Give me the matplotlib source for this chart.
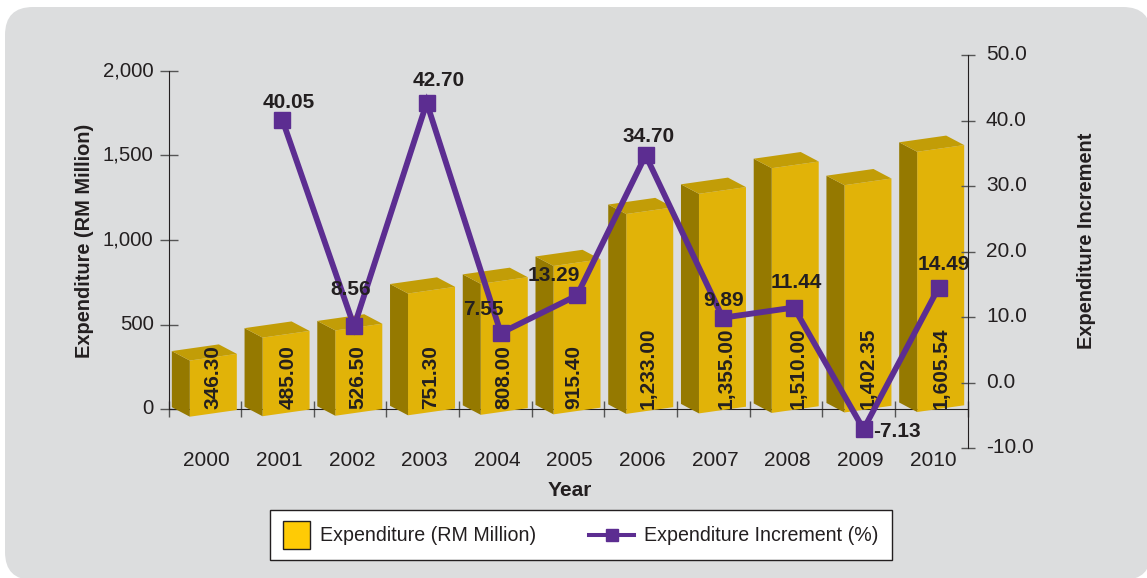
import matplotlib
matplotlib.use("Agg")
import matplotlib.pyplot as plt
from matplotlib.lines import Line2D
from matplotlib.patches import FancyBboxPatch, Rectangle
from matplotlib.transforms import IdentityTransform, ScaledTranslation

plt.rcParams['font.family'] = ['Liberation Sans', 'DejaVu Sans']

years = ['2000', '2001', '2002', '2003', '2004', '2005', '2006', '2007', '2008', '2009', '2010']
expenditure = [346.30, 485.00, 526.50, 751.30, 808.00, 915.40, 1233.00, 1355.00, 1510.00, 1402.35, 1605.54]
increment_years = [1, 2, 3, 4, 5, 6, 7, 8, 9, 10]
increment = [40.05, 8.56, 42.70, 7.55, 13.29, 34.70, 9.89, 11.44, -7.13, 14.49]
expenditure_ticks = [0, 500, 1000, 1500, 2000]
increment_ticks = [-10, 0, 10, 20, 30, 40, 50]

# colours
bg_col = '#dcddde'
front_col = '#e1b308'
side_col = '#957900'
top_col = '#c29d07'
line_col = '#5c2d91'
text_col = '#231f20'
tick_col = '#555555'

W, H = 1147, 578
fig = plt.figure(figsize=(W / 100, H / 100), dpi=100, facecolor='white')
fig.add_artist(FancyBboxPatch((5, -2), 1146, H - 7 + 2, boxstyle='round,pad=0,rounding_size=28',
                              fc=bg_col, ec='none', transform=IdentityTransform(), zorder=-5))

def axes_px(left, right, top, bottom):
    return fig.add_axes([left / W, 1 - bottom / H, (right - left) / W, (bottom - top) / H])

ax = axes_px(168.5, 967.5, 71, 409)
ax2 = axes_px(168.5, 967.5, 55, 448)
ax.patch.set_visible(False)
ax2.patch.set_visible(False)

ax.set_xlim(-0.5, 10.5)
ax.set_ylim(0, 2000)
ax2.set_xlim(-0.5, 10.5)
ax2.set_ylim(-10, 50)

# px to data units on the bar axes
ux = 11 / 799.0
uy = 2000 / 338.0
bar_scale = 0.959

# each bar label and line point sits a little off the category centre
nudge = [8, 10.5, 7.5, 7.5, 8.5, 6, 7, 12.5, 12.5, 9.5, 10]
marker_nudge = [0, 5, 4, 4, 5.5, 9, 5, 9.5, 8, 5, 7.5]

for i, val in enumerate(expenditure):
    x0 = i + (-15 + 0.1 * i) * ux
    x1 = x0 + 47 * ux
    dx = -18 * ux
    dy = 9.5 * uy
    y0 = (-7.7 + 0.47 * i) * uy
    y1 = y0 + 6.7 * uy
    h = val * bar_scale
    ax.fill([x0, x1, x1, x0], [y0, y1, y1 + h, y0 + h], fc=front_col, ec='none', clip_on=False, zorder=3)
    ax.fill([x0 + dx, x0, x0, x0 + dx], [y0 + dy, y0, y0 + h, y0 + h + dy], fc=side_col, ec='none', clip_on=False, zorder=3)
    ax.fill([x0 + dx, x0, x1, x1 + dx], [y0 + h + dy, y0 + h, y1 + h, y1 + h + dy], fc=top_col, ec='none', clip_on=False, zorder=3)
    ax.text(i + nudge[i] * ux, 0, f'{val:,.2f}', rotation=90, ha='center', va='bottom', fontsize=15,
            fontweight='bold', color=text_col, zorder=4, clip_on=False)

# left axis
for s in ['top', 'right']:
    ax.spines[s].set_visible(False)
ax.spines['left'].set_color(text_col)
ax.spines['bottom'].set_color(text_col)
ax.set_axisbelow(True)
ax.set_yticks(expenditure_ticks)
ax.set_yticklabels([f'{t:,}' for t in expenditure_ticks])
ax.tick_params(axis='y', direction='inout', length=13.5, width=1, color=tick_col, labelsize=14.7,
               labelcolor=text_col, pad=4)
ax.set_xticks(range(len(years)))
ax.set_xticklabels(years)
ax.tick_params(axis='x', length=0, labelsize=15, labelcolor=text_col, pad=30.5)
ax.set_xticks([i - 0.5 for i in range(len(years) + 1)], minor=True)
ax.tick_params(axis='x', which='minor', direction='inout', length=11, width=1, color=tick_col)

# right axis
for s in ['top', 'left', 'bottom']:
    ax2.spines[s].set_visible(False)
ax2.spines['right'].set_color(text_col)
ax2.set_xticks([])
ax2.yaxis.tick_right()
ax2.set_yticks(increment_ticks)
ax2.set_yticklabels([f'{t:.1f}' for t in increment_ticks])
ax2.tick_params(axis='y', direction='inout', length=10.5, width=1, color=tick_col, labelsize=15,
                labelcolor=text_col, pad=8)

# y tick labels sit slightly above their ticks, year labels slightly right
lift = ScaledTranslation(0, 1.5 / 72, fig.dpi_scale_trans)
for lab in ax.get_yticklabels() + ax2.get_yticklabels():
    lab.set_transform(lab.get_transform() + lift)
shift = ScaledTranslation(1.2 / 72, 0, fig.dpi_scale_trans)
for lab in ax.get_xticklabels():
    lab.set_transform(lab.get_transform() + shift)

line_x = [i + marker_nudge[i] * ux for i in increment_years]
ax2.plot(line_x, increment, color=line_col, lw=4.2, marker='s', ms=12, mec=line_col, mfc=line_col,
         clip_on=False, zorder=5, solid_joinstyle='miter')

# label offsets from the marker, px
label_off = [(6, 18), (-3, 37), (12, 22), (-17, 24), (-23, 20), (3, 19), (1, 17), (2, 25), (33, -2), (5, 23)]
for x, val, off in zip(line_x, increment, label_off):
    ax2.annotate(f'{val:.2f}', (x, val), xytext=(off[0] * 0.72, off[1] * 0.72), textcoords='offset points',
                 ha='center', va='center', fontsize=15, fontweight='bold', color=text_col, zorder=6,
                 annotation_clip=False)

fig.text(84 / W, 1 - 241 / H, 'Expenditure (RM Million)', rotation=90, ha='center', va='center',
         fontsize=14.4, fontweight='bold', color=text_col)
fig.text(1086 / W, 1 - 241 / H, 'Expenditure Increment', rotation=90, ha='center', va='center',
         fontsize=14.4, fontweight='bold', color=text_col)
fig.text(569.5 / W, 1 - 491 / H, 'Year', ha='center', va='center', fontsize=15, fontweight='bold', color=text_col)

# legend box, laid out by hand so the swatch and line keep their own widths
def rect_px(x0, y0, x1, y1, **kw):
    fig.add_artist(Rectangle((x0, H - y1), x1 - x0, y1 - y0, transform=IdentityTransform(), **kw))

rect_px(270, 510, 892, 560, fc='white', ec=text_col, lw=1)
rect_px(283, 521, 310, 549, fc='#ffcb05', ec=text_col, lw=1)
fig.add_artist(Line2D([589, 634], [H - 534.7, H - 534.7], color=line_col, lw=2.9, transform=IdentityTransform()))
fig.add_artist(Line2D([611.5], [H - 534.7], color=line_col, marker='s', ms=8.5, mec=line_col, transform=IdentityTransform()))
fig.text(320 / W, 1 - 541 / H, 'Expenditure (RM Million)', ha='left', va='baseline', fontsize=14.1, color=text_col)
fig.text(644 / W, 1 - 541 / H, 'Expenditure Increment (%)', ha='left', va='baseline', fontsize=14.1, color=text_col)

fig.savefig('out.png', dpi=100, facecolor='white')
